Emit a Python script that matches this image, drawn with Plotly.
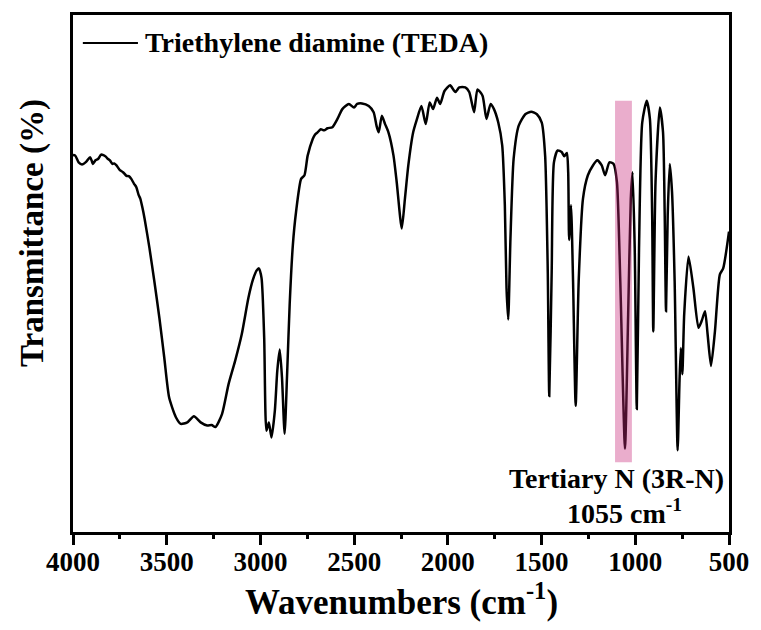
import plotly.graph_objects as go

# FTIR spectrum of triethylene diamine (TEDA)
wavenumber = [
    4000, 3988, 3970, 3952, 3930, 3909, 3900, 3894, 3880, 3865, 3850, 3838,
    3825, 3815, 3803, 3790, 3780, 3768, 3750, 3733, 3715, 3700, 3689, 3675,
    3662, 3650, 3641, 3630, 3618, 3592, 3566, 3539, 3513, 3487, 3451, 3425,
    3390, 3355, 3319, 3284, 3260, 3240, 3205, 3170, 3135, 3100, 3064, 3040,
    3020, 3008, 2994, 2980, 2968, 2955, 2941, 2923, 2910, 2897, 2885, 2871,
    2857, 2844, 2827, 2810, 2783, 2765, 2748, 2721, 2710, 2695, 2678, 2660,
    2642, 2616, 2589, 2563, 2528, 2501, 2484, 2458, 2422, 2396, 2380, 2369,
    2352, 2335, 2317, 2290, 2273, 2246, 2229, 2211, 2185, 2167, 2141, 2118,
    2097, 2079, 2058, 2041, 2018, 1988, 1960, 1939, 1907, 1886, 1860, 1842,
    1815, 1794, 1772, 1754, 1731, 1710, 1696, 1687, 1678, 1666, 1649, 1622,
    1587, 1555, 1525, 1499, 1481, 1467, 1459, 1446, 1434, 1414, 1393, 1379,
    1365, 1358, 1353, 1343, 1332, 1318, 1302, 1279, 1253, 1226, 1203, 1179,
    1161, 1138, 1116, 1098, 1080, 1055, 1038, 1024, 1015, 1003, 992, 980,
    963, 939, 922, 910, 904, 892, 869, 852, 843, 836, 827, 816,
    804, 790, 774, 764, 757, 749, 739, 716, 690, 663, 646, 628,
    614, 596, 575, 549, 531, 500,
]
transmittance = [
    72.9, 72.8, 71.5, 71.1, 71.6, 72.5, 71.8, 71.2, 71.9, 72.2, 73.0, 72.9,
    72.6, 72.2, 71.9, 71.2, 71.3, 70.9, 70.0, 69.6, 68.9, 68.8, 68.3, 67.4,
    66.7, 65.2, 64.5, 62.8, 60.6, 54.9, 48.5, 41.4, 33.7, 26.0, 22.2, 20.9,
    21.2, 22.4, 21.2, 20.6, 20.7, 20.3, 22.8, 28.6, 33.1, 38.2, 45.3, 48.8,
    50.6, 51.0, 49.1, 37.6, 19.6, 21.2, 18.3, 23.5, 31.2, 35.3, 29.9, 19.0,
    31.2, 44.0, 55.5, 61.9, 68.3, 69.0, 72.8, 76.0, 76.8, 77.3, 77.9, 77.7,
    78.1, 78.3, 79.9, 81.8, 82.8, 82.1, 82.8, 82.9, 82.4, 81.2, 78.5, 77.3,
    80.5, 78.9, 77.3, 72.8, 67.7, 58.7, 64.5, 70.9, 77.3, 79.6, 82.4, 78.9,
    83.1, 81.8, 84.0, 82.8, 85.3, 86.4, 85.1, 86.0, 86.0, 85.1, 81.2, 85.6,
    84.4, 79.9, 82.8, 81.8, 79.2, 74.8, 63.2, 47.2, 41.1, 56.8, 72.2, 78.6,
    80.8, 81.3, 80.8, 79.2, 72.8, 50.4, 26.3, 50.4, 71.5, 73.8, 73.5, 72.7,
    73.3, 69.6, 56.5, 63.2, 48.5, 24.4, 48.5, 64.5, 69.0, 70.9, 71.9, 70.9,
    69.0, 71.5, 71.2, 67.7, 48.5, 16.1, 42.1, 64.5, 69.6, 54.9, 23.8, 54.9,
    79.2, 83.4, 79.9, 61.3, 38.8, 67.7, 82.1, 77.3, 61.3, 42.7, 61.3, 71.2,
    65.8, 48.5, 15.8, 29.2, 35.6, 30.5, 42.1, 53.3, 47.2, 39.5, 40.8, 42.7,
    38.2, 32.1, 38.8, 49.8, 51.0, 58.1,
]

series_name = "Triethylene diamine (TEDA)"
x_ticks = [4000, 3500, 3000, 2500, 2000, 1500, 1000, 500]

# highlighted tertiary-amine band
band_range = [1108, 1018]
band_height = [13.5, 83.4]
band_label = "Tertiary N (3R-N)"
band_peak = 1055

FONT = "Liberation Serif"

fig = go.Figure()
fig.add_trace(go.Scatter(
    x=wavenumber, y=transmittance, mode="lines", name=series_name,
    line=dict(color="black", width=2.5, shape="spline", smoothing=0.6),
    showlegend=False,
))

fig.add_shape(
    type="rect", xref="x", yref="y",
    x0=band_range[0], x1=band_range[1], y0=band_height[0], y1=band_height[1],
    fillcolor="rgba(200,40,120,0.38)", line=dict(width=0), layer="above",
)

# legend drawn by hand: sample line + label
fig.add_shape(type="line", xref="paper", yref="paper",
              x0=0.015, x1=0.099, y0=0.946, y1=0.946,
              line=dict(color="black", width=2))
fig.add_annotation(text=f"<b>{series_name}</b>", xref="paper", yref="paper",
                   x=0.107, y=0.946, xanchor="left", yanchor="middle",
                   showarrow=False, font=dict(family=FONT, size=28, color="black"))

fig.add_annotation(text=f"<b>{band_label}</b>", xref="x", yref="y",
                   x=1101, y=10.4, xanchor="center", yanchor="middle",
                   showarrow=False, font=dict(family=FONT, size=28, color="black"))
fig.add_annotation(text=f"<b>{band_peak} cm<sup>-1</sup></b>", xref="x", yref="y",
                   x=band_peak, y=3.9, xanchor="center", yanchor="middle",
                   showarrow=False, font=dict(family=FONT, size=28, color="black"))

# axis titles
fig.add_annotation(text="<b>Transmittance (%)</b>", xref="paper", yref="paper",
                   x=-0.062, y=0.579, xanchor="center", yanchor="middle",
                   textangle=-90, showarrow=False,
                   font=dict(family=FONT, size=33, color="black"))
fig.add_annotation(text="<b>Wavenumbers (cm<sup>-1</sup>)</b>", xref="paper", yref="paper",
                   x=0.501, y=-0.131, xanchor="center", yanchor="middle",
                   showarrow=False, font=dict(family=FONT, size=35, color="black"))

fig.update_xaxes(
    range=[4000, 500], tickvals=x_ticks, ticktext=[f"<b>{v}</b>" for v in x_ticks],
    ticks="outside", ticklen=10, tickwidth=2.5, tickcolor="black",
    ticklabelstandoff=-6,
    minor=dict(dtick=250, ticks="outside", ticklen=4, tickwidth=2.5, tickcolor="black", tick0=500),
    showline=True, linewidth=3, linecolor="black", mirror=True,
    showgrid=False, zeroline=False,
    tickfont=dict(family=FONT, size=27, color="black"),
)
fig.update_yaxes(
    range=[0, 100], showticklabels=False, ticks="",
    showline=True, linewidth=3, linecolor="black", mirror=True,
    showgrid=False, zeroline=False,
)

fig.update_layout(
    width=761, height=630,
    margin=dict(l=73, r=26, t=12, b=98),
    plot_bgcolor="white", paper_bgcolor="white",
    font=dict(family=FONT, color="black"),
)

fig.write_html("out.html")
